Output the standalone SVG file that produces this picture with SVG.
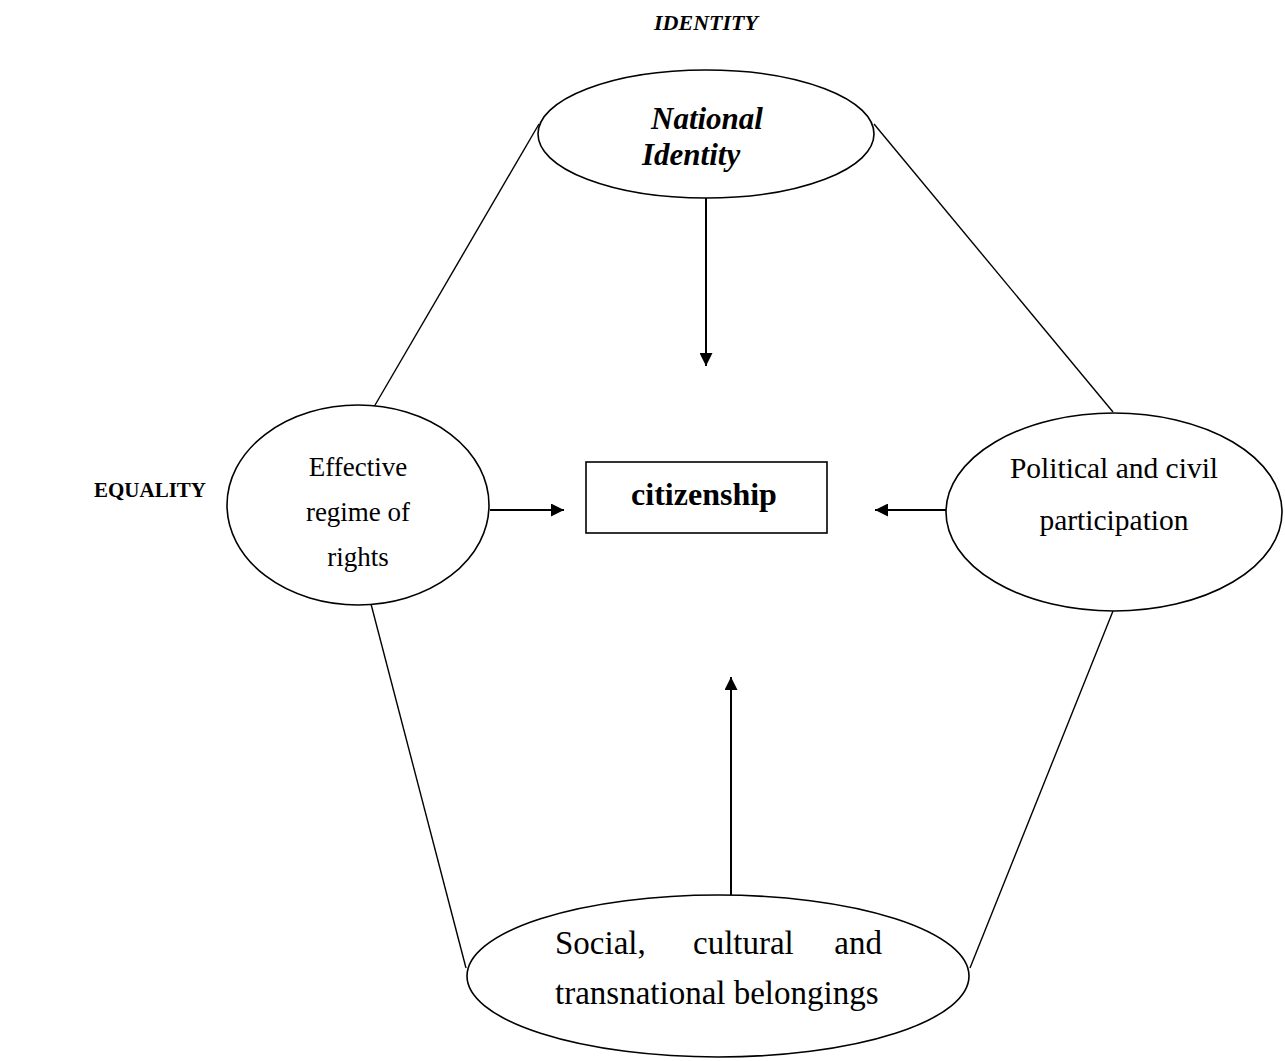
<svg xmlns="http://www.w3.org/2000/svg" width="1285" height="1061" viewBox="0 0 1285 1061">
<style>
.n{fill:#fff;stroke:#000;stroke-width:1.6}
.l{stroke:#000;stroke-width:1.4;fill:none}
.a{stroke:#000;stroke-width:2;fill:none}
.t{font-family:"Liberation Serif","Times New Roman",serif;fill:#000}
.bi{font-weight:bold;font-style:italic}
.b{font-weight:bold}
.s20{font-size:21px}
.s22{font-size:22px}
.s27{font-size:27px}
.s29{font-size:29.5px}
.s31{font-size:31px}
.s32{font-size:32px}
.s33{font-size:33px}
</style>
<defs>
<marker id="ah" viewBox="0 0 10 10" refX="10" refY="5" markerWidth="6.5" markerHeight="6.5" markerUnits="strokeWidth" orient="auto">
<path d="M0,0 L10,5 L0,10 z" fill="#000"/>
</marker>
</defs>
<rect width="1285" height="1061" fill="#fff"/>
<g id="connectors">
<line class="l" x1="371" y1="412" x2="539" y2="124"/>
<line class="l" x1="874" y1="124" x2="1113" y2="412"/>
<line class="l" x1="371" y1="604" x2="466" y2="968"/>
<line class="l" x1="1113" y1="611" x2="970" y2="968"/>
<line class="a" x1="706" y1="198" x2="706" y2="366" marker-end="url(#ah)"/>
<line class="a" x1="490" y1="510" x2="564" y2="510" marker-end="url(#ah)"/>
<line class="a" x1="946" y1="510" x2="875" y2="510" marker-end="url(#ah)"/>
<line class="a" x1="731" y1="895" x2="731" y2="677" marker-end="url(#ah)"/>
</g>
<g id="label-identity"><text class="t bi s22" x="706" y="30" text-anchor="middle">IDENTITY</text></g>
<g id="label-equality"><text class="t b s20" x="94" y="497">EQUALITY</text></g>
<g id="national-identity">
<ellipse class="n" cx="706" cy="134" rx="168" ry="64"/>
<text class="t bi s31" x="651" y="129">National</text>
<text class="t bi s31" x="642" y="165">Identity</text>
</g>
<g id="rights">
<ellipse class="n" cx="358" cy="505" rx="131" ry="100"/>
<text class="t s27" x="358" y="476" text-anchor="middle">Effective</text>
<text class="t s27" x="358" y="521" text-anchor="middle">regime of</text>
<text class="t s27" x="358" y="566" text-anchor="middle">rights</text>
</g>
<g id="citizenship">
<rect class="n" x="586" y="462" width="241" height="71"/>
<text class="t b s32" x="704" y="505" text-anchor="middle">citizenship</text>
</g>
<g id="participation">
<ellipse class="n" cx="1114" cy="512" rx="168" ry="99"/>
<text class="t s29" x="1114" y="478" text-anchor="middle">Political and civil</text>
<text class="t s29" x="1114" y="530" text-anchor="middle">participation</text>
</g>
<g id="belongings">
<ellipse class="n" cx="718" cy="976" rx="251" ry="81"/>
<text class="t s33" x="555" y="954">Social,</text>
<text class="t s33" x="693" y="954">cultural</text>
<text class="t s33" x="882" y="954" text-anchor="end">and</text>
<text class="t s33" x="555" y="1004">transnational belongings</text>
</g>
</svg>
